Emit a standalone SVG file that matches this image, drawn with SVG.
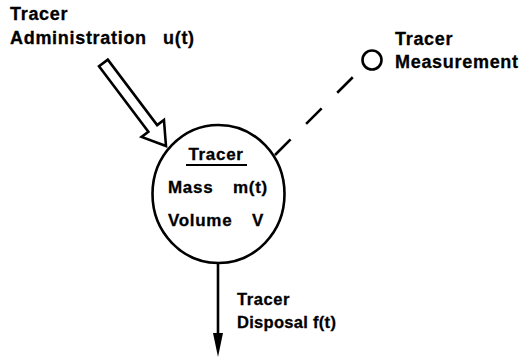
<svg xmlns="http://www.w3.org/2000/svg" width="521" height="359" viewBox="0 0 521 359">
<style>
text{font-family:"Liberation Sans",Arial,sans-serif;font-weight:bold;font-size:18px;letter-spacing:0.7px;fill:#000;stroke:#000;stroke-width:0.3}
.in{font-size:17px}
.sm{font-size:16.5px;letter-spacing:0.6px}
.ln{stroke:#000;stroke-width:2.6;fill:none}
</style>
<rect width="521" height="359" fill="#fff"/>
<g id="connectors">
<g id="administration-arrow" transform="translate(166,146) rotate(53)">
<polygon class="ln" stroke-linejoin="miter" points="0,0 -22,-14 -22,-5.5 -104,-5.5 -104,5.5 -22,5.5 -22,14"/>
</g>
<line id="measurement-link" class="ln" x1="275" y1="155" x2="355" y2="75" stroke-dasharray="22,22"/>
<line id="disposal-line" class="ln" x1="218" y1="263" x2="218" y2="336"/>
<polygon points="213,333 223,333 218,357" fill="#000"/>
</g>
<g id="administration-label">
<text x="10" y="20">Tracer</text>
<text x="10" y="44">Administration<tspan x="163">u(t)</tspan></text>
</g>
<g id="compartment">
<ellipse class="ln" cx="218.5" cy="194" rx="66" ry="69"/>
<text class="in" x="216" y="160" text-anchor="middle">Tracer</text>
<line x1="186" y1="165" x2="247" y2="165" stroke="#000" stroke-width="2"/>
<text class="in" x="168" y="193">Mass<tspan x="233">m(t)</tspan></text>
<text class="in" x="168" y="226">Volume<tspan x="252">V</tspan></text>
</g>
<g id="measurement">
<circle class="ln" cx="372" cy="60" r="9.5"/>
<text x="395" y="45">Tracer</text>
<text x="395" y="68">Measurement</text>
</g>
<g id="disposal-label">
<text class="sm" x="237" y="305">Tracer</text>
<text class="sm" x="237" y="328" style="letter-spacing:0.3px">Disposal<tspan x="313">f(t)</tspan></text>
</g>
</svg>
